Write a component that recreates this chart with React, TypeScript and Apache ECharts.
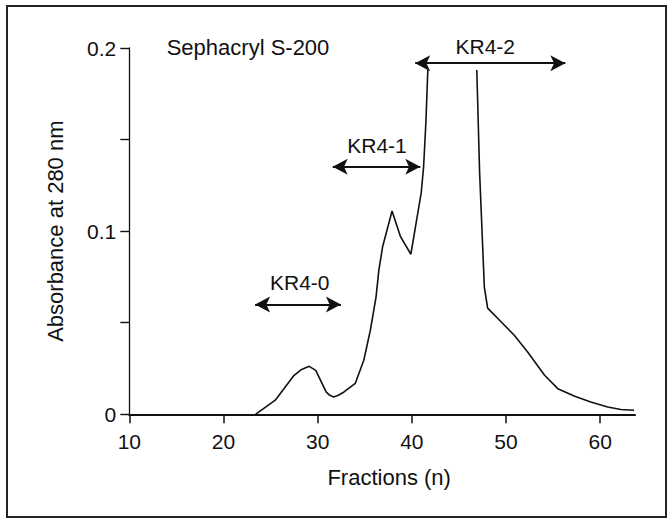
import React, { useEffect, useRef } from "react";
import * as echarts from "echarts";

// Elution profile (fraction number, absorbance at 280 nm); "-" marks the off-scale gap
const fractions = [23.4, 25.5, 27.5, 28.3, 29.1, 29.8, 30.9, 31.25, 31.7, 32.2, 32.8, 34.0, 34.9, 35.6, 36.2, 36.5, 36.9, 37.9, 38.8, 39.9, 41.0, 41.25, 41.5, 41.7, 44.3, 46.9, 47.2, 47.7, 48.05, 49.5, 50.9, 52.3, 54.1, 55.5, 57.3, 59.0, 60.8, 62.2, 63.6];
const absorbance: (number | string)[] = [0, 0.0077, 0.0213, 0.0245, 0.0262, 0.024, 0.0122, 0.0105, 0.0095, 0.0104, 0.0122, 0.0169, 0.0295, 0.046, 0.064, 0.0787, 0.0915, 0.111, 0.097, 0.0874, 0.121, 0.135, 0.16, 0.188, "-", 0.188, 0.132, 0.0696, 0.058, 0.0504, 0.043, 0.034, 0.0213, 0.014, 0.0098, 0.0067, 0.004, 0.0026, 0.0022];

// Axis ticks
const xTickValues = [10, 20, 30, 40, 50, 60];
const yTickValues = [0, 0.05, 0.1, 0.15, 0.2];
const yLabelValues = [0, 0.1, 0.2];

// Pool ranges (double arrows)
const poolNames = ["KR4-0", "KR4-1", "KR4-2"];
const poolStart = [23.36, 31.6, 40.36];
const poolEnd = [32.47, 40.9, 56.3];
const poolLevel = [0.06, 0.1351, 0.1917];
const poolLabelX = [28.1, 36.3, 47.8];
const poolLabelY = [0.0717, 0.147, 0.2007];

const columnLabel = "Sephacryl S-200";
const columnLabelPos = [13.97, 0.2002];

const FONT = '"Liberation Sans", Arial, Helvetica, sans-serif';
const INK = "#111111";

export default function App() {
  const ref = useRef<HTMLDivElement>(null);
  useEffect(() => {
    if (!ref.current) return;
    const chart = echarts.init(ref.current, undefined, { renderer: "svg" });
    const lineData = fractions.map((f, i) => [f, absorbance[i]]);
    const labelData = poolNames.map((n, i) => ({ name: n, value: [poolLabelX[i], poolLabelY[i]] }));
    const arrows = poolNames.map((_, i) => [
      { coord: [poolStart[i], poolLevel[i]] },
      { coord: [poolEnd[i], poolLevel[i]] },
    ]);
    chart.setOption({
      animation: false,
      backgroundColor: "#ffffff",
      textStyle: { fontFamily: FONT, color: INK },
      grid: { left: 129.3, right: 34, top: 48, bottom: 104.7, containLabel: false },
      xAxis: {
        type: "value",
        min: 10,
        max: 63.7,
        interval: 10,
        name: "Fractions (n)",
        nameLocation: "middle",
        nameGap: 52,
        nameTextStyle: { fontSize: 22, color: INK, fontFamily: FONT, padding: [0, 0, 0, 14] },
        axisLine: { show: true, onZero: false, lineStyle: { color: INK, width: 2.2 } },
        axisTick: { show: true, length: 9, customValues: xTickValues, lineStyle: { color: INK, width: 1.5 } },
        axisLabel: { customValues: xTickValues, fontSize: 21, color: INK, fontFamily: FONT, margin: 17 },
        splitLine: { show: false },
      },
      yAxis: {
        type: "value",
        min: 0,
        max: 0.2,
        interval: 0.05,
        name: "Absorbance at 280 nm",
        nameLocation: "middle",
        nameGap: 63,
        nameTextStyle: { fontSize: 22, color: INK, fontFamily: FONT },
        axisLine: { show: true, lineStyle: { color: INK, width: 1.3 } },
        axisTick: { show: true, length: 9, customValues: yTickValues, lineStyle: { color: INK, width: 1.4 } },
        axisLabel: { customValues: yLabelValues, fontSize: 21, color: INK, fontFamily: FONT, margin: 13 },
        splitLine: { show: false },
      },
      graphic: [
        {
          type: "rect",
          shape: { x: 7, y: 6, width: 659, height: 511 },
          style: { fill: "none", stroke: "#222", lineWidth: 2 },
          silent: true,
          z: 0,
        },
      ],
      series: [
        {
          type: "line",
          data: lineData,
          showSymbol: false,
          symbol: "none",
          connectNulls: false,
          lineStyle: { color: INK, width: 1.6 },
          silent: true,
          z: 3,
          markLine: {
            silent: true,
            symbol: ["arrow", "arrow"],
            symbolSize: [12, 15],
            label: { show: false },
            lineStyle: { color: INK, width: 2, type: "solid" },
            emphasis: { disabled: true },
            data: arrows,
          },
        },
        {
          type: "scatter",
          symbolSize: 0,
          clip: false,
          silent: true,
          itemStyle: { opacity: 1, color: INK },
          data: [
            ...labelData,
            {
              name: columnLabel,
              value: columnLabelPos,
              label: { align: "left", fontSize: 22 },
            },
          ],
          label: {
            show: true,
            position: "inside",
            formatter: (p: any) => p.name,
            fontSize: 21,
            color: INK,
            opacity: 1,
            textBorderWidth: 0,
            fontFamily: FONT,
          },
          z: 4,
        },
      ],
    });
    return () => chart.dispose();
  }, []);
  return (
    <div
      ref={ref}
      style={{ position: "absolute", left: 0, top: 0, width: 669, height: 519 }}
    />
  );
}
